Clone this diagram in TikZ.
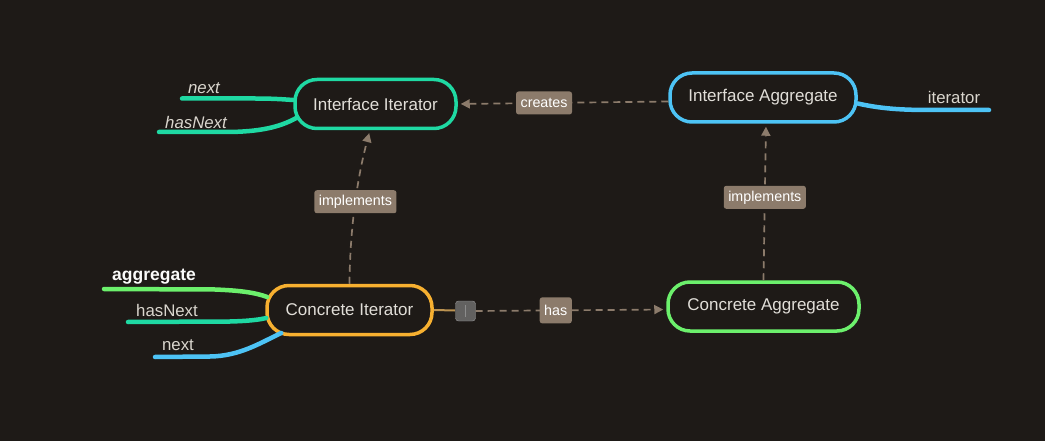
\documentclass[tikz,border=0pt]{standalone}
\usepackage{fontspec}
\setmainfont{Liberation Sans}
\usetikzlibrary{arrows.meta,positioning}

\definecolor{bg}{HTML}{1E1A17}
\definecolor{iterteal}{HTML}{1FD9A3}
\definecolor{aggblue}{HTML}{4DC3F5}
\definecolor{conorange}{HTML}{F7B030}
\definecolor{congreen}{HTML}{6CF06C}
\definecolor{linkbrown}{HTML}{8C7B6B}
\definecolor{leafgray}{HTML}{DAD6CE}

\tikzset{
  topic/.style={draw, line width=3.5pt, rounded corners=22pt, inner sep=0pt,
    minimum height=49pt, text=leafgray!80!white, font=\fontsize{17}{19}\selectfont},
  link/.style={draw=linkbrown, line width=1.7pt, dash pattern=on 7pt off 5pt,
    -{Triangle[length=9pt,width=9pt]}, shorten >=3pt},
  linklabel/.style={fill=linkbrown, text=white, rounded corners=2.5pt, solid,
    inner xsep=4.5pt, inner ysep=0pt, minimum height=23pt, font=\fontsize{14.3}{16}\selectfont},
  leaf/.style={line width=4.5pt, line cap=round},
  leaftext/.style={text=leafgray, font=\fontsize{16.8}{19}\selectfont},
}

\begin{document}
\begin{tikzpicture}[x=1pt,y=-1pt]
\useasboundingbox[fill=bg] (0,0) rectangle (1045,441);

% the four topics
\node[topic, draw=iterteal, minimum width=161pt] (ii) at (375.5,104) {Interface Iterator};
\node[topic, draw=aggblue, minimum width=186pt] (ia) at (763,97.5) {Interface Aggregate};
\node[topic, draw=conorange, minimum width=165pt] (ci) at (349.5,310) {Concrete Iterator};
\node[topic, draw=congreen, minimum width=191pt] (ca) at (763.5,306.5) {Concrete Aggregate};

% leaf labels
\node[leaftext, font=\fontsize{16.8}{19}\selectfont\itshape] (iinext) at (204,88) {next};
\node[leaftext, font=\fontsize{16.8}{19}\selectfont\itshape] (iihas) at (196,122) {hasNext};
\node[leaftext] (iaiter) at (954,97) {iterator};
\node[leaftext, text=white!90!leafgray, font=\fontsize{17.5}{19}\selectfont\bfseries] (ciagg) at (154,277) {aggregate};
\node[leaftext] (cihas) at (167,310) {hasNext};
\node[leaftext] (cinext) at (178,345) {next};

% free ends of the leaves
\coordinate (e1) at (182,98.5);
\coordinate (e2) at (159,132);
\coordinate (e3) at (989,110);
\coordinate (e4) at (104,289);
\coordinate (e5) at (128,322);
\coordinate (e6) at (155,357);

% leaves
\draw[leaf, iterteal] (e1) -- (255,98.5) .. controls (275,98.5) and (285,99.5) .. ([yshift=4pt]ii.west);
\draw[leaf, iterteal] (e2) -- (225,132) .. controls (260,132) and (280,127) .. ([xshift=3pt,yshift=-14pt]ii.west);
\draw[leaf, aggblue] ([yshift=-6pt]ia.east) .. controls (880,108.5) and (900,110) .. (930,110) -- (e3);
\draw[leaf, congreen] (e4) -- (215,289.5) .. controls (240,290.5) and (255,292.5) .. ([xshift=2pt,yshift=13pt]ci.west);
\draw[leaf, iterteal] (e5) -- (230,321.5) .. controls (250,321) and (260,319.5) .. ([xshift=1pt,yshift=-8pt]ci.west);
\draw[leaf, aggblue] (e6) -- (210,356.5) .. controls (240,356) and (260,343) .. ([xshift=16pt,yshift=-23pt]ci.west);

% handle on the has link
\draw[line width=2pt, conorange!45!linkbrown] (ci.east) -- (455,310.5);
\node[fill=gray!70!bg, draw=gray!80, rounded corners=3pt, minimum size=20pt, inner sep=0pt] (hd) at (465.5,311) {};
\draw[gray!90, line width=1pt] ([yshift=6pt]hd.center) -- ([yshift=-6pt]hd.center);

% links
\draw[link] ([yshift=-4pt]ia.west) -- node[linklabel, pos=0.59] {creates} (ii.east);
\draw[link] (ci.north) .. controls (350,225) and (358,175) .. node[linklabel, pos=0.5] {implements} ([xshift=-5.5pt]ii.south);
\draw[link] (ca.north) -- node[linklabel, pos=0.53] {implements} ([xshift=3pt]ia.south);
\draw[link] (hd.east) -- node[linklabel, minimum height=26pt, pos=0.42] {has} ([yshift=-3pt]ca.west);
\end{tikzpicture}
\end{document}
